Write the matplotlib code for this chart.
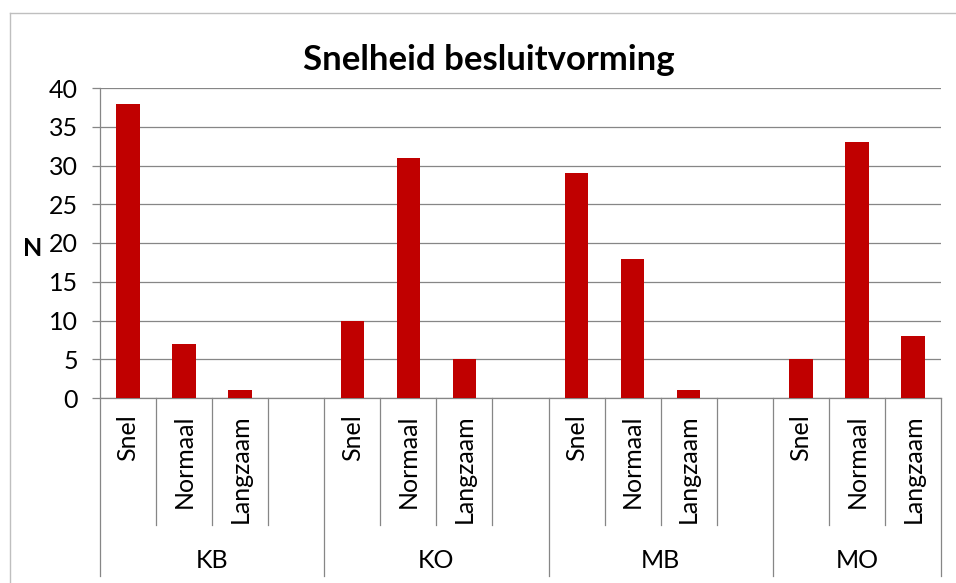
import matplotlib.pyplot as plt
import matplotlib.transforms as mtransforms

groups = ['KB', 'KO', 'MB', 'MO']
speeds = ['Snel', 'Normaal', 'Langzaam']
values = {
    'KB': [38, 7, 1],
    'KO': [10, 31, 5],
    'MB': [29, 18, 1],
    'MO': [5, 33, 8],
}
yticks = [0, 5, 10, 15, 20, 25, 30, 35, 40]

plt.rcParams['font.family'] = ['Lato', 'DejaVu Sans']

W, H = 956, 583
fig = plt.figure(figsize=(W / 100, H / 100), dpi=100)
# plot area in pixels: x 100..941, y 88..398
ax = fig.add_axes([100 / W, (H - 398) / H, 841 / W, 310 / H])

grid_col = '#868686'
bar_col = '#C00000'

# positions: 4 slots per group (last slot empty), last group only 3
xs, hs = [], []
for g, name in enumerate(groups):
    for c, v in enumerate(values[name]):
        xs.append(g * 4 + c)
        hs.append(v)
ax.bar(xs, hs, width=0.42, color=bar_col, zorder=3)

nslots = 15
ax.set_xlim(-0.5, nslots - 0.5)
ax.set_ylim(0, 40)
ax.set_yticks(yticks)
ax.yaxis.grid(True, color=grid_col, linewidth=0.9)
ax.set_axisbelow(True)
ax.tick_params(axis='y', length=6, width=0.9, color=grid_col, pad=10, labelsize=18)
ax.tick_params(axis='x', bottom=False, labelbottom=False)
for s in ['top', 'right']:
    ax.spines[s].set_visible(False)
for s in ['left', 'bottom']:
    ax.spines[s].set_color(grid_col)
    ax.spines[s].set_linewidth(0.9)

# multi-level category axis
trans = mtransforms.blended_transform_factory(ax.transData, ax.transAxes)
inner_bot = -(525 - 398) / 310
outer_bot = -(576 - 398) / 310
group_edges = [0, 4, 8, 12, 15]
for i in range(nslots + 1):
    yb = outer_bot if i in group_edges else inner_bot
    ax.plot([i - 0.5, i - 0.5], [0, yb], color=grid_col, linewidth=0.9,
            transform=trans, clip_on=False)

for g, name in enumerate(groups):
    for c, lab in enumerate(speeds):
        ax.text(g * 4 + c, -16 / 310, lab, rotation=90, ha='center', va='top',
                fontsize=18, transform=trans)
    lo, hi = group_edges[g], group_edges[g + 1]
    ax.text((lo + hi) / 2 - 0.5, -(560 - 398) / 310, name, ha='center',
            va='center', fontsize=18, transform=trans)

ax.text(33 / W, (H - 248) / H, 'N', transform=fig.transFigure, ha='center',
        va='center', fontsize=18, fontweight='bold')
fig.text(489 / W, (H - 60) / H, 'Snelheid besluitvorming', ha='center',
         va='center', fontsize=25, fontweight='bold')

# chart border (left and top edges visible)
fig.add_artist(plt.Line2D([10 / W, 10 / W], [0, (H - 13) / H], color='#BFBFBF',
                          linewidth=1, transform=fig.transFigure))
fig.add_artist(plt.Line2D([10 / W, 1], [(H - 13) / H, (H - 13) / H], color='#BFBFBF',
                          linewidth=1, transform=fig.transFigure))

fig.savefig('out.png', dpi=100)
